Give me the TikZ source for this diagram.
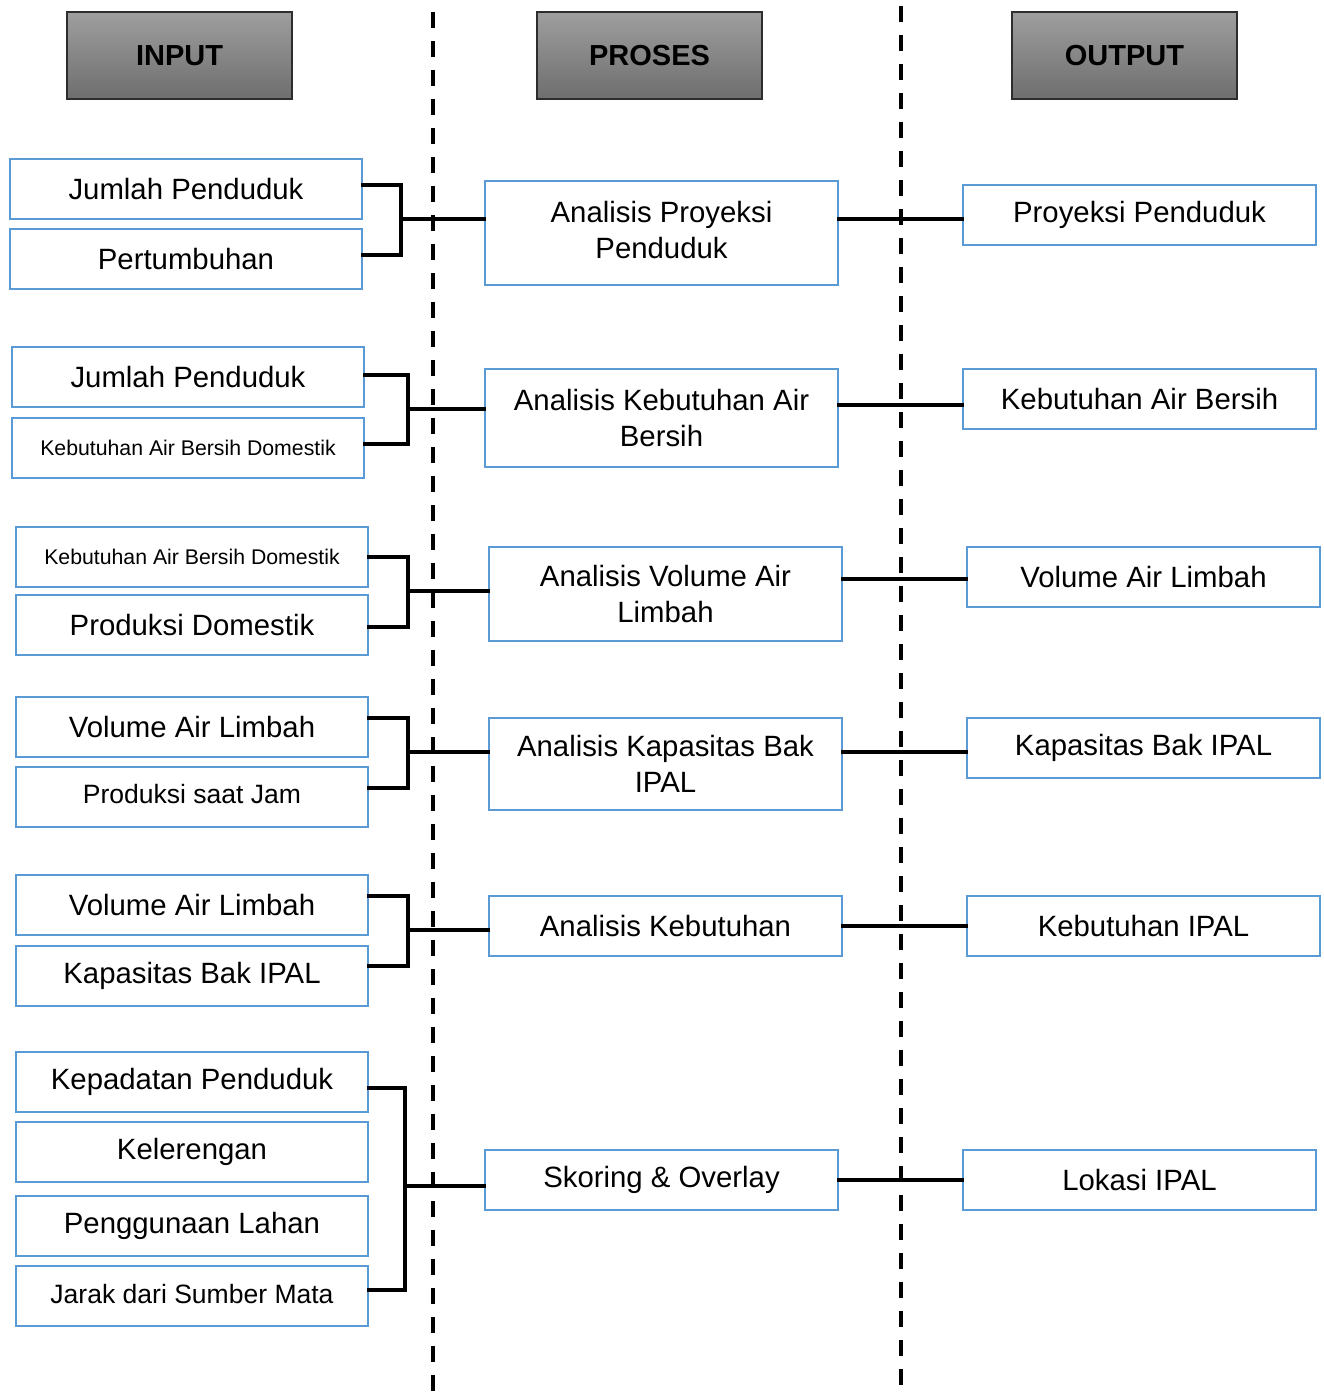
\documentclass[tikz,border=0pt]{standalone}
\usepackage{fontspec}
\setmainfont{Liberation Sans}
\usetikzlibrary{positioning}
\definecolor{boxblue}{RGB}{91,155,213}
\definecolor{headtop}{RGB}{158,158,158}
\definecolor{headbottom}{RGB}{110,110,110}
\definecolor{headline}{RGB}{45,45,45}
\newcommand{\bigtext}{\fontsize{16.7}{20.5}\selectfont}
\newcommand{\midtext}{\fontsize{15.1}{18}\selectfont}
\newcommand{\smalltext}{\fontsize{12.1}{14}\selectfont}

\begin{document}
\begin{tikzpicture}[
    x=0.02cm, y=-0.02cm,
    headbox/.style={
      draw=headline,
      line width=0.8pt,
      top color=headtop,
      bottom color=headbottom,
      minimum width=4.5cm,
      minimum height=1.74cm,
      inner sep=0pt,
      font=\fontsize{16.5}{19}\selectfont\bfseries,
      text=black
    },
    inbox/.style={
      draw=boxblue,
      line width=1.3pt,
      fill=white,
      minimum width=7.04cm,
      minimum height=1.2cm,
      inner sep=0pt,
      font=\bigtext
    },
    procbox/.style={
      inbox,
      minimum width=7.06cm,
      align=center
    },
    link/.style={
      line width=2pt,
      line cap=rect
    },
    divider/.style={
      line width=2.3pt,
      dash pattern=on 0.32cm off 0.26cm
    }
  ]
  \useasboundingbox (0,0) rectangle (1324,1392);

  \draw[divider] (433,12) -- (433,1392);
  \draw[divider] (901,6) -- (901,1392);

  \node[headbox] (hin) at (179.5,55.5) {INPUT};
  \node[headbox] (hpro) at (649.5,55.5) {PROSES};
  \node[headbox] (hout) at (1124.5,55.5) {OUTPUT};

  \node[inbox] (jp1) at (186,189) {Jumlah Penduduk};
  \node[inbox] (pt1) at (186,259) {Pertumbuhan};
  \node[inbox] (jp2) at (188,377) {Jumlah Penduduk};
  \node[inbox, font=\smalltext] (kab2) at (188,448) {Kebutuhan Air Bersih Domestik};
  \node[inbox, font=\smalltext] (kab3) at (192,557) {Kebutuhan Air Bersih Domestik};
  \node[inbox] (pd3) at (192,625) {Produksi Domestik};
  \node[inbox] (val4) at (192,727) {Volume Air Limbah};
  \node[inbox, font=\midtext] (psj4) at (192,797) {\raisebox{3pt}{Produksi saat Jam}};
  \node[inbox] (val5) at (192,905) {Volume Air Limbah};
  \node[inbox] (kbi5) at (192,976) {Kapasitas Bak IPAL};
  \node[inbox] (kp6) at (192,1082) {Kepadatan Penduduk};
  \node[inbox] (kl6) at (192,1152) {Kelerengan};
  \node[inbox] (pl6) at (192,1226) {Penggunaan Lahan};
  \node[inbox, font=\midtext] (js6) at (192,1296) {\raisebox{2pt}{Jarak dari Sumber Mata}};

  \node[procbox, minimum height=2.08cm] (p1) at (661.5,233)
    {\raisebox{5pt}{\begin{tabular}{@{}c@{}}Analisis Proyeksi\\Penduduk\end{tabular}}};
  \node[procbox, minimum height=1.96cm] (p2) at (661.5,418)
    {Analisis Kebutuhan Air\\Bersih};
  \node[procbox, minimum height=1.88cm] (p3) at (665.5,594)
    {Analisis Volume Air\\Limbah};
  \node[procbox, minimum height=1.84cm] (p4) at (665.5,764)
    {Analisis Kapasitas Bak\\IPAL};
  \node[procbox] (p5) at (665.5,926) {Analisis Kebutuhan};
  \node[procbox] (p6) at (661.5,1180) {Skoring \& Overlay};

  \node[procbox] (o1) at (1139.5,215) {Proyeksi Penduduk};
  \node[procbox] (o2) at (1139.5,399) {Kebutuhan Air Bersih};
  \node[procbox] (o3) at (1143.5,577) {Volume Air Limbah};
  \node[procbox] (o4) at (1143.5,748) {Kapasitas Bak IPAL};
  \node[procbox] (o5) at (1143.5,926) {Kebutuhan IPAL};
  \node[procbox] (o6) at (1139.5,1180) {Lokasi IPAL};

  \coordinate (b1) at (401,219);
  \coordinate (b2) at (408,409);
  \coordinate (b3) at (408,591);
  \coordinate (b4) at (408,752);
  \coordinate (b5) at (408,930);
  \coordinate (b6) at (405,1186);

  \coordinate (c1) at (901,219);
  \coordinate (c2) at (901,405);
  \coordinate (c3) at (901,579);
  \coordinate (c4) at (901,752);
  \coordinate (c5) at (901,926);
  \coordinate (c6) at (901,1180);

  \draw[link] ([yshift=0.08cm]jp1.east) -| (b1) |- ([yshift=0.08cm]pt1.east);
  \draw[link] (b1) -- (b1 -| p1.west);
  \draw[link] ([yshift=0.04cm]jp2.east) -| (b2) |- ([yshift=0.08cm]kab2.east);
  \draw[link] (b2) -- (b2 -| p2.west);
  \draw[link] (kab3.east) -| (b3) |- ([yshift=-0.04cm]pd3.east);
  \draw[link] (b3) -- (b3 -| p3.west);
  \draw[link] ([yshift=0.18cm]val4.east) -| (b4) |- ([yshift=0.18cm]psj4.east);
  \draw[link] (b4) -- (b4 -| p4.west);
  \draw[link] ([yshift=0.18cm]val5.east) -| (b5) |- ([yshift=0.2cm]kbi5.east);
  \draw[link] (b5) -- (b5 -| p5.west);
  \draw[link] ([yshift=-0.12cm]kp6.east) -| (b6) |- ([yshift=0.12cm]js6.east);
  \draw[link] (b6) -- (b6 -| p6.west);

  \draw[link] (c1 -| p1.east) -- (c1 -| o1.west);
  \draw[link] (c2 -| p2.east) -- (c2 -| o2.west);
  \draw[link] (c3 -| p3.east) -- (c3 -| o3.west);
  \draw[link] (c4 -| p4.east) -- (c4 -| o4.west);
  \draw[link] (c5 -| p5.east) -- (c5 -| o5.west);
  \draw[link] (c6 -| p6.east) -- (c6 -| o6.west);
\end{tikzpicture}
\end{document}
